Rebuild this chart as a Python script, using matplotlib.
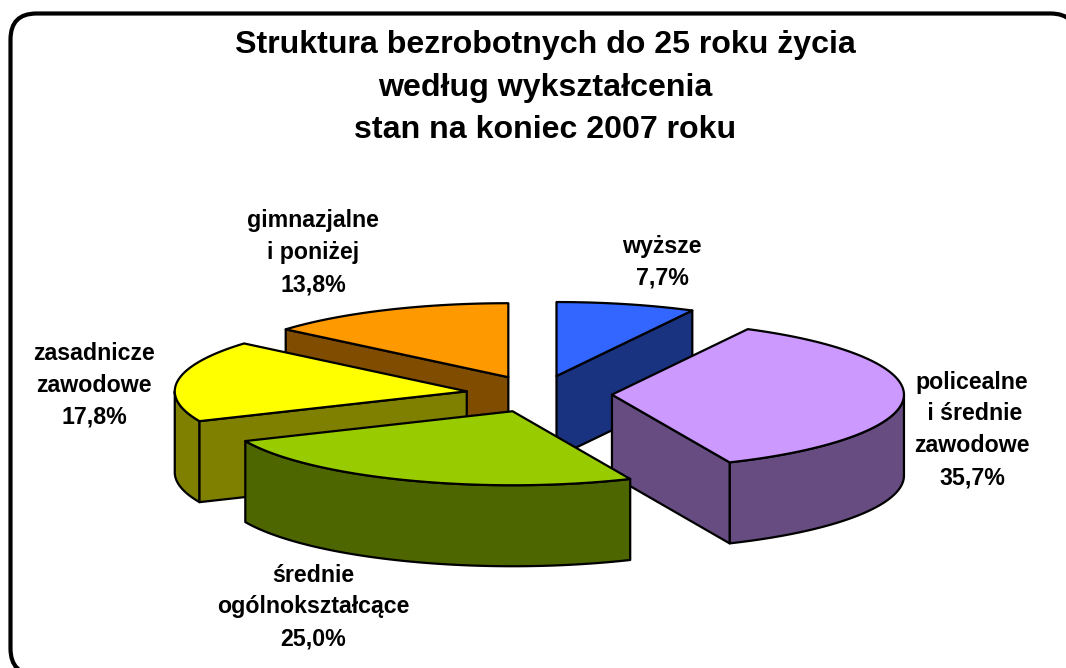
import numpy as np
import matplotlib
matplotlib.use('Agg')
import matplotlib.pyplot as plt
from matplotlib.patches import Polygon, FancyBboxPatch

# Data
categories = ['wyższe', 'policealne\n i średnie\nzawodowe', 'średnie\nogólnokształcące',
              'zasadnicze\nzawodowe', 'gimnazjalne\ni poniżej']
shares = [7.7, 35.7, 25.0, 17.8, 13.8]
share_labels = ['7,7%', '35,7%', '25,0%', '17,8%', '13,8%']
title_lines = ['Struktura bezrobotnych do 25 roku życia', 'według wykształcenia', 'stan na koniec 2007 roku']

top_colors = ['#3366FF', '#CC99FF', '#99CC00', '#FFFF00', '#FF9900']
side_colors = ['#1A3380', '#664C80', '#4D6600', '#808000', '#804C00']
label_pos = [(662, 261), (972, 429), (313, 606), (94, 384), (313, 252)]
draw_order = [0, 4, 3, 1, 2]

# Pie geometry in pixels
cx, cy = 539, 394
rx, ry = 292, 74
depth = 81
explode = 0.25
edge = 'black'

plt.rcParams['font.family'] = ['Liberation Sans', 'DejaVu Sans']


def point(theta, ox, oy, r=1.0):
    return ox + r * rx * np.sin(theta), oy - r * ry * np.cos(theta)


def draw_slice(ax, start, end, top_color, side_color):
    mid = (start + end) / 2
    ox, oy = point(mid, cx, cy, explode)
    t = np.linspace(start, end, 120)
    ax_arc = np.column_stack(point(t, ox, oy))
    apex = np.array([[ox, oy]])
    drop = np.array([0, depth])

    # Outer wall, only the part on the near half of the ellipse
    lo, hi = max(start, np.pi / 2), min(end, 3 * np.pi / 2)
    if hi > lo:
        tw = np.linspace(lo, hi, 120)
        wall = np.column_stack(point(tw, ox, oy))
        ax.add_patch(Polygon(np.vstack([wall, (wall + drop)[::-1]]), closed=True,
                             fc=side_color, ec=edge, lw=1.6, joinstyle='round'))

    # Radial faces that look towards the viewer
    for theta, visible in ((start, np.sin(start) < -1e-6), (end, np.sin(end) > 1e-6)):
        if visible:
            rim = np.array([point(theta, ox, oy)])
            face = np.vstack([apex, rim, rim + drop, apex + drop])
            ax.add_patch(Polygon(face, closed=True, fc=side_color, ec=edge, lw=1.6, joinstyle='round'))

    ax.add_patch(Polygon(np.vstack([apex, ax_arc]), closed=True,
                         fc=top_color, ec=edge, lw=1.6, joinstyle='round'))


def main():
    fig = plt.figure(figsize=(10.66, 6.68), dpi=100)
    ax = fig.add_axes([0, 0, 1, 1])
    ax.set_xlim(0, 1066)
    ax.set_ylim(668, 0)
    ax.axis('off')

    # Rounded frame, runs off the right and bottom edges
    ax.add_patch(FancyBboxPatch((10.5, 13.5), 1066, 661, boxstyle='round,pad=0,rounding_size=26',
                                fc='white', ec='black', lw=3, clip_on=True))

    edges = np.concatenate([[0], np.cumsum(shares)]) / np.sum(shares) * 2 * np.pi
    for i in draw_order:
        draw_slice(ax, edges[i], edges[i + 1], top_colors[i], side_colors[i])

    for i, line in enumerate(title_lines):
        ax.text(545.5, 45.5 + i * 42.5, line, ha='center', va='center', fontsize=23.15, fontweight='bold')

    for name, share, (x, y) in zip(categories, share_labels, label_pos):
        ax.text(x, y + 1, name + '\n' + share, ha='center', va='center', fontsize=16.7,
                fontweight='bold', linespacing=1.5)

    fig.savefig('out.png', dpi=100)


if __name__ == "__main__":
    main()
